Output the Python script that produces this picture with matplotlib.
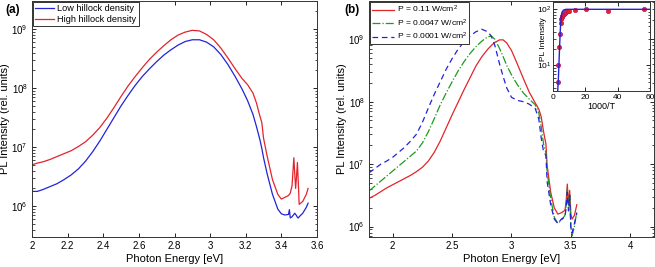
import numpy as np
import matplotlib
matplotlib.use('Agg')
import matplotlib.pyplot as plt
import matplotlib.ticker as ticker

plt.rcParams['font.family'] = ['Liberation Sans', 'DejaVu Sans']
plt.rcParams['mathtext.default'] = 'regular'

# Panel (a): energies [eV] and log10 of PL intensity
a_energy = [2.00, 2.03, 2.06, 2.10, 2.14, 2.18, 2.22, 2.26, 2.30, 2.34, 2.38, 2.42, 2.46, 2.50,
            2.54, 2.58, 2.62, 2.66, 2.70, 2.74, 2.78, 2.82, 2.86, 2.90, 2.94, 2.98, 3.02, 3.06,
            3.10, 3.14, 3.18, 3.21, 3.24, 3.26, 3.28, 3.29, 3.30, 3.32, 3.35, 3.38, 3.40, 3.42,
            3.44, 3.445, 3.45, 3.46, 3.47, 3.475, 3.48, 3.485, 3.49, 3.495, 3.50, 3.52, 3.54, 3.55]
a_low = [6.25, 6.25, 6.28, 6.33, 6.38, 6.45, 6.53, 6.63, 6.76, 6.92, 7.10, 7.30, 7.50, 7.70,
         7.88, 8.05, 8.20, 8.33, 8.45, 8.56, 8.65, 8.73, 8.79, 8.82, 8.82, 8.78, 8.70, 8.57,
         8.40, 8.20, 7.98, 7.79, 7.56, 7.35, 7.12, 6.98, 6.82, 6.55, 6.20, 5.95, 5.87, 5.85,
         5.86, 5.94, 5.80, 5.82, 5.86, 5.88, 5.86, 5.84, 5.81, 5.80, 5.82, 5.88, 5.98, 6.05]
a_high = [6.70, 6.73, 6.75, 6.79, 6.84, 6.89, 6.94, 7.01, 7.09, 7.20, 7.33, 7.49, 7.67, 7.86,
          8.04, 8.20, 8.35, 8.49, 8.61, 8.72, 8.82, 8.90, 8.95, 8.98, 8.97, 8.91, 8.82, 8.68,
          8.51, 8.33, 8.16, 8.06, 7.92, 7.75, 7.52, 7.42, 7.15, 6.85, 6.45, 6.20, 6.12, 6.15,
          6.18, 6.20, 6.22, 6.35, 6.82, 6.55, 6.30, 6.50, 6.74, 6.40, 6.03, 6.08, 6.20, 6.30]

# Panel (b): three excitation powers
b_energy = [1.80, 1.85, 1.90, 1.95, 2.00, 2.05, 2.10, 2.15, 2.20, 2.25, 2.30, 2.35, 2.40, 2.45,
            2.50, 2.55, 2.60, 2.65, 2.70, 2.75, 2.80, 2.83, 2.86, 2.90, 2.93, 2.96, 3.00, 3.05,
            3.10, 3.15, 3.20, 3.23, 3.25, 3.27, 3.29, 3.30, 3.33, 3.36, 3.39, 3.42, 3.45, 3.46,
            3.47, 3.48, 3.49, 3.50, 3.51, 3.53, 3.55]
b_high = [6.45, 6.50, 6.56, 6.62, 6.67, 6.72, 6.77, 6.82, 6.88, 6.95, 7.05, 7.19, 7.37, 7.58,
          7.79, 7.99, 8.19, 8.38, 8.57, 8.72, 8.84, 8.90, 8.95, 8.99, 8.99, 8.94, 8.82, 8.60,
          8.37, 8.15, 7.98, 7.88, 7.76, 7.52, 7.32, 6.98, 6.55, 6.30, 6.20, 6.22, 6.26, 6.40,
          6.68, 6.35, 6.58, 6.20, 6.12, 6.18, 6.35]
b_mid = [6.57, 6.65, 6.73, 6.81, 6.89, 6.97, 7.05, 7.13, 7.21, 7.34, 7.52, 7.73, 7.95, 8.14,
         8.32, 8.49, 8.64, 8.77, 8.88, 8.97, 9.04, 9.05, 9.00, 8.85, 8.72, 8.58, 8.43, 8.27,
         8.14, 8.04, 7.95, 7.82, 7.60, 7.32, 7.18, 6.88, 6.45, 6.15, 6.05, 6.10, 6.18, 6.35,
         6.60, 6.30, 6.52, 6.00, 5.85, 6.00, 6.25]
b_low = [6.86, 6.93, 7.00, 7.05, 7.11, 7.19, 7.27, 7.37, 7.48, 7.67, 7.90, 8.12, 8.32, 8.52,
         8.69, 8.84, 8.96, 9.05, 9.12, 9.16, 9.12, 9.05, 8.90, 8.60, 8.40, 8.22, 8.07, 8.02,
         8.00, 7.96, 7.89, 7.72, 7.42, 7.20, 7.14, 6.72, 6.35, 6.12, 6.05, 6.12, 6.15, 6.30,
         6.55, 6.25, 6.50, 5.95, 5.90, 6.05, 6.22]

# Inset: PL intensity vs 1000/T
inv_t = [3.4, 3.4, 3.8, 4.2, 4.7, 5.0, 5.3, 5.6, 6.0, 6.4, 6.8, 7.2, 7.7, 8.3, 9.0, 10.0,
         13.3, 20.2, 33.9, 56.0]
inset_pl = [5.0, 10, 21, 37, 57, 66, 72, 76, 79, 82, 84, 86, 88, 90, 92, 95, 98, 101, 92, 100]
fit_x = [2.9, 3.3, 3.7, 4.1, 4.5, 5.0, 5.5, 6.5, 8.0, 60]
fit_y = [3.5, 5.5, 11, 22, 42, 70, 88, 97, 100, 100]

RED = '#e3242b'
BLUE = '#2323d8'
GREEN = '#1f9a1f'


def style_axis(ax, size=7):
    ax.set_yscale('log')
    ax.tick_params(which='both', direction='in', top=True, right=True, labelsize=size, pad=3)
    ax.tick_params(which='major', length=3, width=0.6)
    ax.tick_params(which='minor', length=1.8, width=0.5)
    ax.xaxis.set_minor_locator(ticker.NullLocator())
    for s in ax.spines.values():
        s.set_linewidth(0.7)
        s.set_color('#333333')


fig = plt.figure(figsize=(6.55, 2.67), dpi=100)

# ---- (a)
ax1 = fig.add_axes([32 / 655, 30 / 267, 285 / 655, 236 / 267])
style_axis(ax1)
ax1.plot(a_energy, 10 ** np.array(a_low), color=BLUE, lw=0.9, label='Low hillock density')
ax1.plot(a_energy, 10 ** np.array(a_high), color=RED, lw=0.9, label='High hillock density')
ax1.set_xlim(2, 3.6)
ax1.set_ylim(3e5, 3e9)
ax1.set_xticks(np.arange(2, 3.61, 0.2))
ax1.xaxis.set_major_formatter(ticker.FuncFormatter(lambda v, p: f'{v:g}'))
ax1.set_yticks([1e6, 1e7, 1e8, 1e9])
ax1.set_xlabel('Photon Energy [eV]', fontsize=8, labelpad=2)
ax1.set_ylabel('PL Intensity (rel. units)', fontsize=8, labelpad=1)
leg = ax1.legend(loc='upper left', fontsize=6.6, handlelength=2.0, handletextpad=0.4,
                 borderpad=0.25, labelspacing=0.2, borderaxespad=0.1, fancybox=False,
                 framealpha=1)
leg.get_frame().set_edgecolor('#333333')
leg.get_frame().set_linewidth(0.7)
fig.text(5 / 655, 1 - 10 / 267, '(a)', fontsize=8.5, fontweight='bold', va='center')

# ---- (b)
ax2 = fig.add_axes([369 / 655, 30 / 267, 285 / 655, 236 / 267])
style_axis(ax2)
ax2.plot(b_energy, 10 ** np.array(b_high), color=RED, lw=0.9, label='P = 0.11 W/cm$^2$')
ax2.plot(b_energy, 10 ** np.array(b_mid), color=GREEN, lw=0.9, ls='-.', label='P = 0.0047 W/cm$^2$')
ax2.plot(b_energy, 10 ** np.array(b_low), color=BLUE, lw=0.9, ls=(0, (4.5, 3)), label='P = 0.0001 W/cm$^2$')
ax2.set_xlim(1.8, 4.2)
ax2.set_ylim(6.8e5, 4.1e9)
ax2.set_xticks([2, 2.5, 3, 3.5, 4])
ax2.xaxis.set_major_formatter(ticker.FuncFormatter(lambda v, p: f'{v:g}'))
ax2.set_yticks([1e6, 1e7, 1e8, 1e9])
ax2.set_xlabel('Photon Energy [eV]', fontsize=8, labelpad=2)
ax2.set_ylabel('PL Intensity (rel. units)', fontsize=8, labelpad=1)
leg2 = ax2.legend(loc='upper left', fontsize=6.1, handlelength=2.6, handletextpad=0.3,
                  borderpad=0.25, labelspacing=0.25, borderaxespad=0.1, fancybox=False,
                  framealpha=1)
leg2.get_frame().set_edgecolor('#333333')
leg2.get_frame().set_linewidth(0.7)
fig.text(344 / 655, 1 - 10 / 267, '(b)', fontsize=8.5, fontweight='bold', va='center')

# ---- inset
ax3 = fig.add_axes([553 / 655, (267 - 91) / 267, 97 / 655, 89 / 267])
style_axis(ax3, size=6)
ax3.plot(inv_t, inset_pl, 'o', color=RED, ms=3.2, mec='#c0105a', mew=0.4)
ax3.plot(fit_x, fit_y, color=BLUE, lw=1.0)
ax3.set_xlim(0, 60)
ax3.set_ylim(3.5, 135)
ax3.set_xticks([0, 20, 40, 60])
ax3.set_yticks([10, 100])
ax3.tick_params(axis='x', pad=2)
ax3.tick_params(axis='y', pad=1)
ax3.set_xlabel('1000/T', fontsize=6.5, labelpad=1)
ax3.set_ylabel('PL Intensity', fontsize=6)
ax3.yaxis.set_label_coords(-0.06, 0.58)

fig.savefig('out.png', dpi=100)
